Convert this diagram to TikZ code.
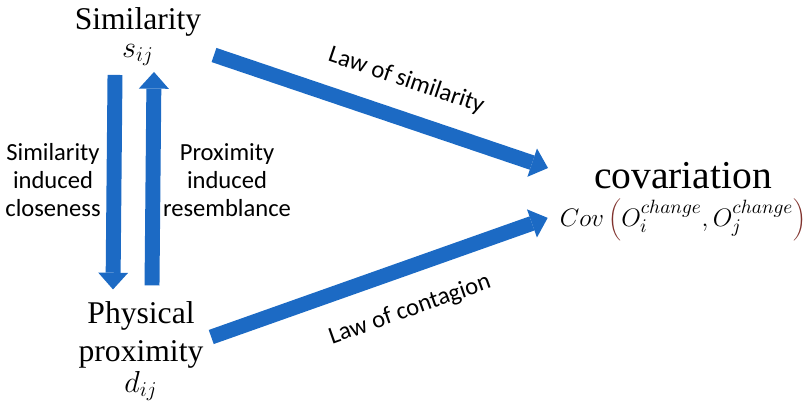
\documentclass[tikz,border=0pt]{standalone}
\usepackage{fontspec}
\setmainfont{Liberation Serif}
\newfontfamily\labelfont{Carlito}
\usepackage{tikz}
\usetikzlibrary{arrows.meta, calc, positioning}
\definecolor{arrowblue}{RGB}{28,106,196}
\definecolor{parred}{RGB}{128,50,45}
\tikzstyle{concept} = [inner sep=2pt, align=center, font=\fontsize{18}{22}\selectfont]
\tikzstyle{symbol} = [inner sep=1pt, font=\fontsize{17}{20}\selectfont]
\tikzstyle{caption} = [inner sep=2pt, align=center, font=\labelfont\fontsize{14}{16}\selectfont]
\tikzstyle{blockarrow} = [draw=arrowblue, line width=8.5pt, -{Triangle[length=9.5pt, width=17pt, line width=0pt]}]

\begin{document}
\begin{tikzpicture}[x=0.02cm, y=-0.02cm]
    \useasboundingbox (0,0) rectangle (807,403);
    \node (Similarity) [concept] at (138,22) {Similarity};
    \node (Sij) [symbol, below = 1pt of Similarity] {$s_{ij}$};
    \node (Proximity) [concept] at (141,335) {Physical\\proximity};
    \node (Dij) [symbol, below = -2pt of Proximity] {$d_{ij}$};
    \node (Covariation) [concept, font=\fontsize{22.5}{26}\selectfont] at (683,176) {covariation};
    \node (CovFormula) [symbol, font=\fontsize{15.5}{18}\selectfont, below = 2pt of Covariation] {$Cov\,\textcolor{parred}{\bigg(}O_i^{change},O_j^{change}\textcolor{parred}{\bigg)}$};
    \node (InducedCloseness) [caption] at (53,180) {Similarity\\induced\\closeness};
    \node (InducedResemblance) [caption] at (227,180) {Proximity\\induced\\resemblance};
    \draw [blockarrow] ([shift={(-23,7)}]Sij.south) -- ([shift={(-28,-8)}]Proximity.north);
    \draw [blockarrow] ([shift={(11,-12)}]Proximity.north) -- ([shift={(16,4)}]Sij.south);
    \draw [blockarrow] ([shift={(76,33)}]Similarity.center) -- node[pos=0.54, sloped, above=9pt, caption]{Law of similarity} ([shift={(-135,-8)}]Covariation.center);
    \draw [blockarrow] ([shift={(4,2)}]Proximity.east) -- node[pos=0.55, sloped, below=11pt, caption]{Law of contagion} ([shift={(-10,-2)}]CovFormula.west);
\end{tikzpicture}
\end{document}
